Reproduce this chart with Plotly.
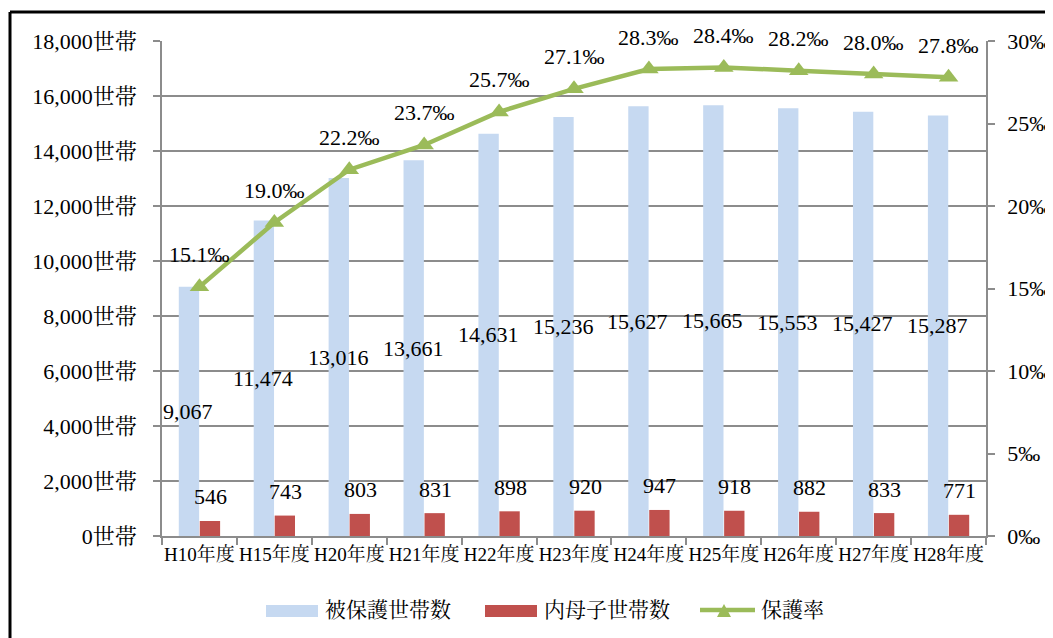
import plotly.graph_objects as go

categories = ["H10年度", "H15年度", "H20年度", "H21年度", "H22年度", "H23年度",
              "H24年度", "H25年度", "H26年度", "H27年度", "H28年度"]
households = [9067, 11474, 13016, 13661, 14631, 15236, 15627, 15665, 15553, 15427, 15287]
single_mother = [546, 743, 803, 831, 898, 920, 947, 918, 882, 833, 771]
rate_permil = [15.1, 19.0, 22.2, 23.7, 25.7, 27.1, 28.3, 28.4, 28.2, 28.0, 27.8]
series_names = ["被保護世帯数", "内母子世帯数", "保護率"]

FONT = "Liberation Serif, Noto Serif CJK JP, Noto Sans CJK JP, serif"
BLUE = "#C6D9F1"
RED = "#C0504D"
GREEN = "#9BBB59"
GRID = "#8C8C8C"

fig = go.Figure()
fig.add_trace(go.Bar(x=categories, y=households, name=series_names[0],
                     marker=dict(color=BLUE, line=dict(width=0))))
fig.add_trace(go.Bar(x=categories, y=single_mother, name=series_names[1],
                     marker=dict(color=RED, line=dict(width=0))))
fig.add_trace(go.Scatter(x=categories, y=rate_permil, name=series_names[2], yaxis="y2",
                         mode="lines+markers",
                         line=dict(color=GREEN, width=4.5),
                         marker=dict(symbol="triangle-up", size=17, color=GREEN)))

annotations = []
for c, v in zip(categories, households):
    annotations.append(dict(x=c, y=v / 2, xref="x", yref="y", text=f"{v:,}",
                            showarrow=False, xshift=-11,
                            font=dict(family=FONT, size=22, color="black")))
for c, v in zip(categories, single_mother):
    annotations.append(dict(x=c, y=v, xref="x", yref="y", text=f"{v:,}",
                            showarrow=False, xshift=11, yshift=24,
                            font=dict(family=FONT, size=22, color="black")))
for c, v in zip(categories, rate_permil):
    annotations.append(dict(x=c, y=v, xref="x", yref="y2", text=f"{v:.1f}‰",
                            showarrow=False, yshift=32,
                            font=dict(family=FONT, size=22, color="black")))

# page body has an 8px margin; figure coordinates are offset accordingly
OFF = 8
FIG_W, FIG_H = 1053 - OFF, 638 - OFF
PL, PT, PR, PB = 162, 41, 986, 536  # plot area in screen pixels
W, H = PR - PL, PB - PT
L, T = PL - OFF, PT - OFF


def px(xs):
    return (xs - PL) / W


def py(ys):
    return (PB - ys) / H


shapes = [
    # frame (left and top edges)
    dict(type="line", xref="paper", yref="paper", x0=px(10), x1=px(10), y0=-0.3, y1=py(12),
         line=dict(color="black", width=3)),
    dict(type="line", xref="paper", yref="paper", x0=px(10), x1=1.2, y0=py(12), y1=py(12),
         line=dict(color="black", width=3)),
    # custom legend symbols
    dict(type="rect", xref="paper", yref="paper", x0=px(266), x1=px(318),
         y0=py(617), y1=py(605), fillcolor=BLUE, line=dict(width=0)),
    dict(type="rect", xref="paper", yref="paper", x0=px(485), x1=px(537),
         y0=py(617), y1=py(605), fillcolor=RED, line=dict(width=0)),
    dict(type="line", xref="paper", yref="paper", x0=px(700), x1=px(755),
         y0=py(610), y1=py(610), line=dict(color=GREEN, width=4.5)),
    dict(type="path", xref="paper", yref="paper",
         path=f"M {px(717)} {py(617)} L {px(731)} {py(617)} L {px(724)} {py(604)} Z",
         fillcolor=GREEN, line=dict(width=0)),
]

for name, xs in zip(series_names, [323, 542, 759]):
    annotations.append(dict(x=px(xs), y=py(610), xref="paper", yref="paper",
                            text=name, showarrow=False, xanchor="left", yanchor="middle",
                            font=dict(family=FONT, size=21, color="black")))

fig.update_layout(
    width=FIG_W, height=FIG_H,
    margin=dict(l=L, r=FIG_W - L - W, t=T, b=FIG_H - T - H, autoexpand=False),
    paper_bgcolor="white", plot_bgcolor="white",
    font=dict(family=FONT, size=19, color="black"),
    barmode="group", bargap=0.44, bargroupgap=0.03,
    showlegend=False,
    xaxis=dict(range=[-0.5, len(categories) - 0.5], autorange=False,
               showline=True, linecolor=GRID, linewidth=1.5, ticks="outside",
               tickson="boundaries", ticklen=7, tickcolor=GRID, tickwidth=1.5,
               tickfont=dict(family=FONT, size=19), tickangle=0, automargin=False,
               showgrid=False),
    yaxis=dict(range=[0, 18000], dtick=2000, tickformat=",d", ticksuffix="世帯",
               showline=True, linecolor=GRID, linewidth=1.5, ticks="outside",
               ticklen=7, tickcolor=GRID, tickwidth=1.5,
               showgrid=True, gridcolor=GRID, gridwidth=1.5,
               tickfont=dict(family=FONT, size=22), ticklabelstandoff=12,
               automargin=False, zeroline=False),
    yaxis2=dict(range=[0, 30], dtick=5, ticksuffix="‰", overlaying="y", side="right",
                showline=True, linecolor=GRID, linewidth=1.5, ticks="outside",
                ticklen=7, tickcolor=GRID, tickwidth=1.5, showgrid=False,
                tickfont=dict(family=FONT, size=22), ticklabelstandoff=8,
                automargin=False, zeroline=False),
    annotations=annotations,
    shapes=shapes,
)

fig.write_html("out.html")
